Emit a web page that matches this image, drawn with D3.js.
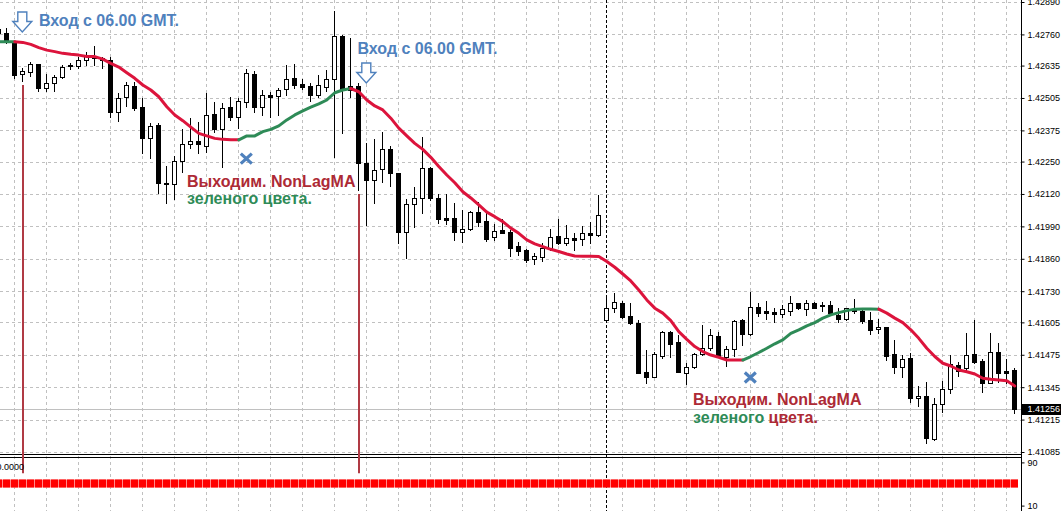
<!DOCTYPE html>
<html><head><meta charset="utf-8">
<script src="https://cdn.jsdelivr.net/npm/d3@7"></script>
<style>html,body{margin:0;padding:0;background:#fff;overflow:hidden}</style>
</head><body>
<svg id="chart" width="1061" height="511"></svg>
<script>
// ---- data (bars numbered -1 .. 126) ----
const firstBar = -1;
const open = [
 1.42782,
 1.42766,1.42724,1.42600,1.42608,1.42640,1.42546,1.42564,1.42590,1.42637,1.42635,
 1.42657,1.42675,1.42667,1.42657,1.42450,1.42508,1.42553,1.42468,1.42343,1.42397,
 1.42165,1.42159,1.42252,1.42319,1.42333,1.42314,1.42441,1.42379,1.42468,1.42428,
 1.42490,1.42600,1.42470,1.42517,1.42514,1.42540,1.42584,1.42560,1.42553,1.42517,
 1.42550,1.42581,1.42754,1.42553,1.42553,1.42243,1.42176,1.42219,1.42299,1.42203,
 1.41969,1.42080,1.42103,1.42226,1.42103,1.42023,1.42023,1.41969,1.41978,1.42047,
 1.42012,1.41946,1.41976,1.41969,1.41912,1.41895,1.41858,1.41869,1.41905,1.41952,
 1.41925,1.41942,1.41938,1.41965,1.41954,1.41613,1.41662,1.41684,1.41631,1.41604,
 1.41407,1.41387,1.41470,1.41568,1.41528,1.41403,1.41424,1.41478,1.41501,1.41551,
 1.41465,1.41497,1.41615,1.41557,1.41666,1.41651,1.41648,1.41639,1.41652,1.41682,
 1.41660,1.41682,1.41675,1.41675,1.41635,1.41618,1.41658,1.41652,1.41615,1.41578,
 1.41587,1.41478,1.41425,1.41461,1.41301,1.41310,1.41136,1.41277,1.41337,1.41433,
 1.41421,1.41478,1.41450,1.41363,1.41485,1.41410,1.41414];
const high = [
 1.42786,
 1.42786,1.42726,1.42627,1.42649,1.42641,1.42600,1.42597,1.42637,1.42645,1.42671,
 1.42691,1.42715,1.42671,1.42671,1.42524,1.42570,1.42570,1.42504,1.42406,1.42406,
 1.42232,1.42272,1.42379,1.42424,1.42410,1.42524,1.42490,1.42484,1.42509,1.42504,
 1.42620,1.42615,1.42537,1.42530,1.42544,1.42637,1.42641,1.42580,1.42564,1.42597,
 1.42617,1.42855,1.42758,1.42744,1.42564,1.42323,1.42339,1.42370,1.42313,1.42205,
 1.42099,1.42149,1.42347,1.42230,1.42120,1.42120,1.42085,1.42056,1.42052,1.42089,
 1.42043,1.42000,1.42019,1.41976,1.41929,1.41898,1.41885,1.41922,1.41978,1.42019,
 1.41996,1.41965,1.41992,1.42009,1.42116,1.41715,1.41722,1.41692,1.41682,1.41615,
 1.41494,1.41488,1.41572,1.41572,1.41555,1.41441,1.41484,1.41595,1.41578,1.41568,
 1.41511,1.41615,1.41617,1.41727,1.41682,1.41692,1.41662,1.41675,1.41711,1.41684,
 1.41695,1.41688,1.41688,1.41692,1.41662,1.41664,1.41698,1.41662,1.41648,1.41618,
 1.41588,1.41535,1.41474,1.41481,1.41350,1.41367,1.41301,1.41371,1.41474,1.41448,
 1.41561,1.41615,1.41457,1.41561,1.41524,1.41457,1.41421];
const low = [
 1.42762,
 1.42726,1.42585,1.42573,1.42594,1.42533,1.42533,1.42533,1.42585,1.42621,1.42627,
 1.42637,1.42637,1.42625,1.42430,1.42413,1.42473,1.42457,1.42283,1.42263,1.42123,
 1.42085,1.42099,1.42209,1.42303,1.42283,1.42290,1.42370,1.42230,1.42417,1.42384,
 1.42470,1.42450,1.42437,1.42428,1.42437,1.42517,1.42544,1.42540,1.42494,1.42510,
 1.42534,1.42270,1.42363,1.42510,1.42136,1.41996,1.42085,1.42169,1.42152,1.41922,
 1.41862,1.41989,1.42043,1.42096,1.42003,1.42000,1.41936,1.41929,1.41976,1.41992,
 1.41932,1.41936,1.41962,1.41871,1.41875,1.41849,1.41838,1.41853,1.41895,1.41920,
 1.41916,1.41895,1.41916,1.41925,1.41952,1.41608,1.41648,1.41622,1.41599,1.41400,
 1.41361,1.41385,1.41461,1.41468,1.41405,1.41358,1.41421,1.41476,1.41494,1.41465,
 1.41430,1.41470,1.41515,1.41555,1.41631,1.41618,1.41608,1.41626,1.41635,1.41658,
 1.41635,1.41662,1.41652,1.41642,1.41608,1.41616,1.41644,1.41602,1.41559,1.41564,
 1.41456,1.41403,1.41387,1.41287,1.41270,1.41123,1.41134,1.41247,1.41323,1.41390,
 1.41411,1.41441,1.41327,1.41361,1.41367,1.41361,1.41241];
const close = [
 1.42766,
 1.42730,1.42597,1.42613,1.42640,1.42546,1.42564,1.42590,1.42631,1.42633,1.42657,
 1.42677,1.42667,1.42657,1.42450,1.42504,1.42557,1.42464,1.42343,1.42393,1.42163,
 1.42159,1.42252,1.42319,1.42333,1.42319,1.42437,1.42379,1.42464,1.42428,1.42493,
 1.42604,1.42470,1.42517,1.42510,1.42537,1.42580,1.42557,1.42548,1.42517,1.42557,
 1.42580,1.42754,1.42537,1.42537,1.42243,1.42176,1.42216,1.42299,1.42203,1.41969,
 1.42080,1.42103,1.42223,1.42103,1.42019,1.42016,1.41966,1.41978,1.42047,1.42009,
 1.41940,1.41972,1.41962,1.41905,1.41893,1.41855,1.41871,1.41902,1.41946,1.41925,
 1.41942,1.41937,1.41965,1.41954,1.42036,1.41662,1.41688,1.41628,1.41604,1.41403,
 1.41387,1.41478,1.41568,1.41519,1.41407,1.41425,1.41478,1.41501,1.41555,1.41470,
 1.41497,1.41612,1.41559,1.41665,1.41644,1.41644,1.41639,1.41658,1.41682,1.41662,
 1.41682,1.41664,1.41670,1.41644,1.41618,1.41662,1.41652,1.41612,1.41575,1.41586,
 1.41470,1.41425,1.41457,1.41301,1.41310,1.41140,1.41277,1.41337,1.41437,1.41411,
 1.41474,1.41444,1.41363,1.41485,1.41403,1.41403,1.41256];
const nonLagMA = [
 1.42731,
 1.42731,1.42731,1.42728,1.42720,1.42707,1.42697,1.42691,1.42684,1.42680,1.42677,
 1.42671,1.42671,1.42661,1.42644,1.42629,1.42606,1.42584,1.42557,1.42537,1.42510,
 1.42470,1.42437,1.42414,1.42388,1.42363,1.42353,1.42343,1.42339,1.42337,1.42337,
 1.42353,1.42353,1.42370,1.42379,1.42393,1.42417,1.42437,1.42453,1.42468,1.42481,
 1.42497,1.42526,1.42537,1.42543,1.42530,1.42497,1.42473,1.42457,1.42424,1.42384,
 1.42353,1.42323,1.42299,1.42267,1.42230,1.42196,1.42165,1.42129,1.42104,1.42076,
 1.42047,1.42029,1.42009,1.41983,1.41962,1.41936,1.41920,1.41909,1.41898,1.41889,
 1.41879,1.41871,1.41870,1.41870,1.41869,1.41849,1.41826,1.41799,1.41771,1.41735,
 1.41695,1.41662,1.41642,1.41612,1.41568,1.41537,1.41508,1.41488,1.41474,1.41465,
 1.41454,1.41454,1.41454,1.41468,1.41484,1.41501,1.41519,1.41535,1.41561,1.41575,
 1.41591,1.41604,1.41622,1.41635,1.41644,1.41652,1.41658,1.41659,1.41659,1.41658,
 1.41642,1.41622,1.41604,1.41575,1.41541,1.41501,1.41468,1.41441,1.41430,1.41414,
 1.41407,1.41398,1.41381,1.41377,1.41374,1.41371,1.41350];
// NonLagMA colour runs: [fromBar, toBar, trend]
const maRuns = [[-1,1,"up"],[1,29,"down"],[29,43,"up"],[43,92,"down"],[92,109,"up"],[109,126,"down"]];
const priceTicks = [1.42890,1.42760,1.42635,1.42505,1.42375,1.42250,1.42120,1.41990,1.41860,1.41730,1.41605,1.41475,1.41345,1.41215,1.41085];
const bidPrice = 1.41256;
const daySeparatorBar = [75];
const entryBars = [2, 44];
const exitBars = [30, 93];
const exitPrices = [1.42262, 1.41384];
const indicatorTicks = [90, 10];
const indicatorLevel = 50;
const indicatorLabel = "0.0000";

// ---- layout ----
const W = 1061, H = 511, plotRight = 1021, mainBottom = 454;
const C_BLUE = "#4f81bd", C_RED_TXT = "#ad2a35", C_GREEN = "#2e8b57", C_MA_RED = "#dc143c", GRID = "#c0c0c0";
const FONT = "'Liberation Sans', Arial, sans-serif";

const bars = d3.range(open.length).map(i => ({
  n: i + firstBar, o: open[i], h: high[i], l: low[i], c: close[i], ma: nonLagMA[i]
}));
const x = d3.scaleLinear().domain([-1, 126]).range([-1.7, 1014.3]);
const y = d3.scaleLinear().domain([1.41085, 1.42890]).range([452, 2]);
const yi = d3.scaleLinear().domain([0, 100]).range([511, 457]);
const px = n => Math.floor(x(n));

const svg = d3.select("#chart");
svg.append("rect").attr("width", W).attr("height", H).attr("fill", "#fff");
svg.append("defs").append("clipPath").attr("id", "mainClip")
  .append("rect").attr("x", 0).attr("y", 0).attr("width", plotRight).attr("height", mainBottom);

// grid
const grid = svg.append("g").attr("stroke", GRID).attr("stroke-width", 1).attr("stroke-dasharray", "3,3");
grid.selectAll("line.h").data(priceTicks).join("line")
  .attr("x1", 0).attr("x2", plotRight).attr("y1", d => Math.round(y(d)) + 0.5).attr("y2", d => Math.round(y(d)) + 0.5);
grid.selectAll("line.v").data(bars.filter(b => ((b.n - 1) % 4 + 4) % 4 === 0)).join("line")
  .attr("x1", b => px(b.n) + 0.5).attr("x2", b => px(b.n) + 0.5).attr("y1", 0).attr("y2", H);

// day separator
svg.append("g").selectAll("line").data(daySeparatorBar).join("line")
  .attr("x1", d => px(d) + 0.5).attr("x2", d => px(d) + 0.5).attr("y1", 0).attr("y2", H)
  .attr("stroke", "#000").attr("stroke-dasharray", "3,2");

// bid line
svg.append("line").attr("x1", 0).attr("x2", plotRight)
  .attr("y1", Math.round(y(bidPrice)) + 0.5).attr("y2", Math.round(y(bidPrice)) + 0.5)
  .attr("stroke", "#c0c0c0");

// panel separators
[mainBottom + 0.5, mainBottom + 3.5].forEach(v => svg.append("line").attr("x1", 0).attr("x2", plotRight)
  .attr("y1", v).attr("y2", v).attr("stroke", "#000"));

// entry vertical lines
svg.append("g").selectAll("line").data(entryBars).join("line")
  .attr("x1", n => px(n) + 1).attr("x2", n => px(n) + 1)
  .attr("y1", n => Math.round(y(bars[n - firstBar].l)) + 4).attr("y2", yi(70))
  .attr("stroke", "#b03a44").attr("stroke-width", 2);

// candles
const cg = svg.append("g").attr("clip-path", "url(#mainClip)");
const cs = cg.selectAll("g.candle").data(bars).join("g");
cs.append("rect").attr("x", b => px(b.n)).attr("width", 1)
  .attr("y", b => Math.round(y(b.h))).attr("height", b => Math.round(y(b.l)) - Math.round(y(b.h)) + 1)
  .attr("fill", "#000");
cs.each(function(b) {
  const top = Math.round(y(Math.max(b.o, b.c))), bot = Math.round(y(Math.min(b.o, b.c)));
  const g = d3.select(this);
  if (b.c < b.o) {
    g.append("rect").attr("x", px(b.n) - 2).attr("width", 5).attr("y", top).attr("height", Math.max(1, bot - top + 1)).attr("fill", "#000");
  } else {
    g.append("rect").attr("x", px(b.n) - 1.5).attr("width", 4).attr("y", top + 0.5).attr("height", Math.max(1, bot - top))
      .attr("fill", "#fff").attr("stroke", "#000");
  }
});

// NonLagMA
const line = d3.line().x(b => x(b.n) + 0.5).y(b => y(b.ma));
cg.selectAll("path.ma").data(maRuns).join("path")
  .attr("d", r => line(bars.filter(b => b.n >= r[0] && b.n <= r[1])))
  .attr("fill", "none").attr("stroke", r => r[2] === "up" ? C_GREEN : C_MA_RED)
  .attr("stroke-width", 3).attr("stroke-linejoin", "round").attr("stroke-linecap", "round");

// indicator histogram
const ig = svg.append("g");
ig.append("rect").attr("x", 0).attr("width", px(126) + 4).attr("y", yi(indicatorLevel) - 4.5).attr("height", 8).attr("fill", "#ff8c8c");
ig.selectAll("rect.s").data(bars).join("rect")
  .attr("x", b => px(b.n) - 3).attr("width", 7).attr("y", yi(indicatorLevel) - 4.5).attr("height", 8).attr("fill", "#ff0000");
ig.append("text").attr("x", 24).attr("y", 467).attr("dy", "0.32em").attr("text-anchor", "end")
  .attr("font-family", FONT).attr("font-size", 9).text(indicatorLabel);

// right axis
svg.append("line").attr("x1", plotRight + 0.5).attr("x2", plotRight + 0.5).attr("y1", 0).attr("y2", H).attr("stroke", "#000");
const ax = svg.append("g").attr("transform", `translate(${plotRight + 0.5},0)`)
  .call(d3.axisRight(y).tickValues(priceTicks).tickFormat(d3.format(".5f")).tickSize(3).tickPadding(3));
ax.select(".domain").remove();
ax.attr("font-family", FONT).attr("font-size", 9);
ax.selectAll("text").attr("fill", "#000");
const iax = svg.append("g").attr("transform", `translate(${plotRight + 0.5},0)`)
  .call(d3.axisRight(yi).tickValues(indicatorTicks).tickFormat(d3.format("d")).tickSize(3).tickPadding(3));
iax.select(".domain").remove();
iax.attr("font-family", FONT).attr("font-size", 9);

// bid price label
const by = Math.round(y(bidPrice));
svg.append("rect").attr("x", plotRight + 1).attr("y", by - 5).attr("width", 39).attr("height", 11).attr("fill", "#000");
svg.append("text").attr("x", plotRight + 6.5).attr("y", by + 0.5).attr("dy", "0.32em")
  .attr("font-family", FONT).attr("font-size", 9).attr("fill", "#fff").text(d3.format(".5f")(bidPrice));

// annotations
function downArrow(cx, top) {
  const p = [[cx-4.5,top],[cx+4.5,top],[cx+4.5,top+9.5],[cx+9.5,top+9.5],[cx,top+20],[cx-9.5,top+9.5],[cx-4.5,top+9.5]];
  svg.append("path").attr("d", "M" + p.map(q => q.join(",")).join("L") + "Z")
    .attr("fill", "#fff").attr("stroke", C_BLUE).attr("stroke-width", 1.4).attr("stroke-linejoin", "miter");
}
downArrow(x(entryBars[0]), 12);
downArrow(x(entryBars[1]) + 8, 63);
const ann = svg.append("g").attr("font-family", FONT).attr("font-weight", "bold").attr("font-size", 16);
ann.append("text").attr("x", 39).attr("y", 26).attr("fill", C_BLUE).text("Вход с 06.00 GMT.");
ann.append("text").attr("x", 357.5).attr("y", 54).attr("fill", C_BLUE).text("Вход с 06.00 GMT.");

exitBars.forEach((n, i) => {
  const cx = x(n), cy = y(exitPrices[i]);
  svg.append("path").attr("d", `M${cx-5.5},${cy-5}L${cx+5.5},${cy+5}M${cx-5.5},${cy+5}L${cx+5.5},${cy-5}`)
    .attr("stroke", C_BLUE).attr("stroke-width", 3.2).attr("fill", "none");
});
ann.append("text").attr("x", 187).attr("y", 186.5).attr("fill", C_RED_TXT).text("Выходим. NonLagMA");
ann.append("text").attr("x", 187).attr("y", 204).attr("fill", C_GREEN).text("зеленого цвета.");
ann.append("text").attr("x", 693).attr("y", 405).attr("fill", C_RED_TXT).text("Выходим. NonLagMA");
const t4 = ann.append("text").attr("x", 693).attr("y", 423);
t4.append("tspan").attr("fill", C_GREEN).text("зеленого ");
t4.append("tspan").attr("fill", C_RED_TXT).text("цвета.");
</script>
</body></html>
